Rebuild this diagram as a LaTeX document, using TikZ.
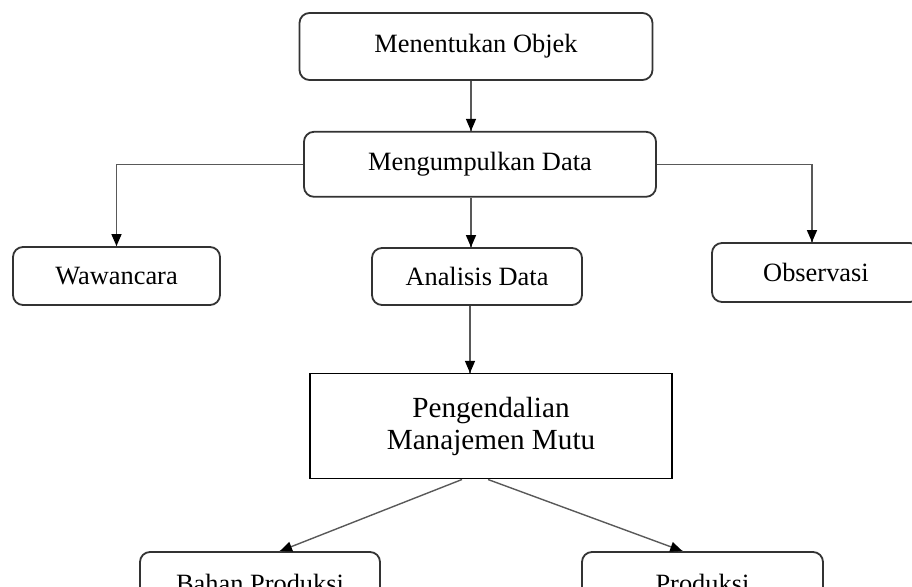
\documentclass[tikz,border=0pt]{standalone}
\usepackage{fontspec}
\setmainfont{Liberation Serif}
\usetikzlibrary{arrows.meta, positioning}
\usetikzlibrary{decorations.markings}
\tikzset{
  step_box/.style={
      rectangle,
      rounded corners=5pt,
      draw=black!80, line width=0.9pt,
      minimum height=32pt,
      text centered,
      font=\fontsize{13.2}{16}\selectfont,
    },
  main_box/.style={
      rectangle,
      draw, line width=0.8pt,
      minimum width=181pt,
      minimum height=52.5pt,
      align=center,
      font=\fontsize{14.6}{16}\selectfont,
    },
  myarrow/.style={
      draw=black!65, line width=0.7pt,
      postaction={
          decorate, decoration={
              markings,mark=at position #1 with {\arrow[black]{Triangle[width=5pt,length=6pt]};}
            }
        }
    },
}

\begin{document}
\begin{tikzpicture}[x=0.5pt, y=-0.5pt]
      \useasboundingbox (0,0) rectangle (912,587);
      \clip (0,0) rectangle (912,587);
      \node[step_box, minimum width=176.5pt, minimum height=33.5pt] (objek) at (476,46.5) {Menentukan Objek};
      \node[step_box, minimum width=176pt, minimum height=32.5pt, below=25pt of objek, xshift=2pt] (kumpul_data) {Mengumpulkan Data};
      \node[step_box, minimum width=103.5pt, minimum height=29pt] (wawancara) at (116.5,276) {Wawancara};
      \node[step_box, minimum width=105pt, minimum height=28.5pt] (analisis) at (477,276.5) {Analisis Data};
      \node[step_box, minimum width=104pt, minimum height=29.5pt] (observasi) at (816,272.5) {Observasi};
      \node[main_box, below=33.5pt of analisis, xshift=7pt] (pengendalian) {Pengendalian\\ Manajemen Mutu};
      \node[step_box, minimum width=120pt, minimum height=31pt] (bahan) at (260,583) {Bahan Produksi};
      \node[step_box, minimum width=120.5pt, minimum height=31pt] (produksi) at (702.5,583) {Produksi};
      \draw[myarrow=1] ([xshift=-2.5pt]objek.south) -- ([xshift=-2.5pt]objek.south |- kumpul_data.north);
      \draw[myarrow=1] (kumpul_data.west) -| (wawancara.north);
      \draw[myarrow=1] (kumpul_data.east) -| ([xshift=-2pt]observasi.north);
      \draw[myarrow=1] ([xshift=-3pt]analisis.north |- kumpul_data.south) -- ([xshift=-3pt]analisis.north);
      \draw[myarrow=1] ([xshift=-3.5pt]analisis.south) -- ([xshift=-3.5pt]analisis.south |- pengendalian.north);
      \draw[myarrow=1] ([xshift=-14.5pt]pengendalian.south) -- ([xshift=10pt]bahan.north);
      \draw[myarrow=1] ([xshift=-1.5pt]pengendalian.south) -- ([xshift=-10pt]produksi.north);
    \end{tikzpicture}
\end{document}
